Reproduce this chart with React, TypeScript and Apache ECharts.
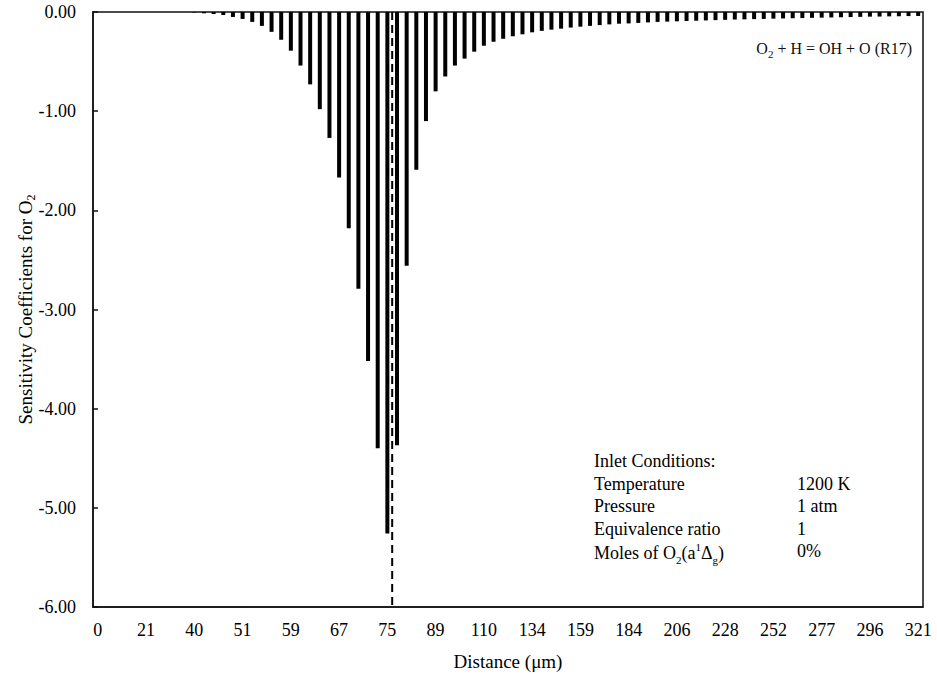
import React, { useEffect, useRef } from "react";
import * as echarts from "echarts";

// Tick labels shown every 5th bar (distance, µm)
const distanceLabels = [
  "0", "21", "40", "51", "59", "67", "75", "89", "110", "134",
  "159", "184", "206", "228", "252", "277", "296", "321",
];

// Sensitivity coefficients for O2, one per grid point (86 points)
const sensitivity = [
  0, 0, 0, 0, 0, 0, 0, 0, 0, 0,
  -0.005, -0.013, -0.02, -0.03, -0.05, -0.07, -0.1, -0.14, -0.2, -0.28,
  -0.39, -0.54, -0.73, -0.98, -1.27, -1.67, -2.18, -2.79, -3.52, -4.4,
  -5.26, -4.37, -2.56, -1.59, -1.1, -0.8, -0.65, -0.54, -0.47, -0.4,
  -0.34, -0.3, -0.27, -0.245, -0.225, -0.205, -0.19, -0.178, -0.168, -0.157,
  -0.148, -0.14, -0.132, -0.125, -0.118, -0.115, -0.11, -0.105, -0.1, -0.097,
  -0.094, -0.091, -0.088, -0.085, -0.082, -0.079, -0.076, -0.074, -0.072, -0.07,
  -0.067, -0.065, -0.063, -0.061, -0.059, -0.057, -0.055, -0.053, -0.051, -0.049,
  -0.047, -0.046, -0.044, -0.043, -0.041, -0.04,
];

// Flame-front marker position (bar-boundary coordinate on hidden value axis)
const markerPosition = [31];

const inletRows = [
  ["Temperature", "1200 K"],
  ["Pressure", "1 atm"],
  ["Equivalence ratio", "1"],
];

const FONT = "'Liberation Serif', 'Times New Roman', serif";

export default function App() {
  const ref = useRef<HTMLDivElement>(null);

  useEffect(() => {
    document.body.style.margin = "0";
    const chart = echarts.init(ref.current!, null, { renderer: "svg" });

    const categories = sensitivity.map((_, i) =>
      i % 5 === 0 ? distanceLabels[i / 5] : `d${i}`
    );

    const textBase = { fontFamily: FONT, fontSize: 18, fill: "#000" };
    const rowY = [463, 485.5, 508, 530.5, 553];
    const graphics: any[] = [
      {
        type: "text",
        left: 594,
        top: rowY[0] - 11,
        style: { ...textBase, text: "Inlet Conditions:" },
      },
    ];
    inletRows.forEach((r, k) => {
      graphics.push({
        type: "text",
        left: 594,
        top: rowY[k + 1] - 11,
        style: { ...textBase, text: r[0] },
      });
      graphics.push({
        type: "text",
        left: 797,
        top: rowY[k + 1] - 11,
        style: { ...textBase, text: r[1] },
      });
    });
    graphics.push({
      type: "text",
      left: 594,
      top: rowY[4] - 12,
      style: {
        text: "{n|Moles of O}{sub|2}{n|(a}{sup|1}{n|Δ}{sub|g}{n|)}",
        fill: "#000",
        rich: {
          n: { fontFamily: FONT, fontSize: 18, lineHeight: 24, fill: "#000" },
          sub: { fontFamily: FONT, fontSize: 11, lineHeight: 12, verticalAlign: "bottom", fill: "#000" },
          sup: { fontFamily: FONT, fontSize: 11, lineHeight: 12, verticalAlign: "top", fill: "#000" },
        },
      },
    });
    graphics.push({
      type: "text",
      left: 797,
      top: rowY[4] - 11,
      style: { ...textBase, text: "0%" },
    });
    graphics.push({
      type: "text",
      right: 25,
      top: 40,
      style: {
        text: "{n|O}{sub|2}{n| + H = OH + O (R17)}",
        fill: "#000",
        rich: {
          n: { fontFamily: FONT, fontSize: 16, lineHeight: 22, fill: "#111" },
          sub: { fontFamily: FONT, fontSize: 11, lineHeight: 14, verticalAlign: "bottom", fill: "#111" },
        },
      },
    });

    chart.setOption({
      animation: false,
      backgroundColor: "#fff",
      grid: {
        left: 93,
        right: 14,
        top: 12,
        bottom: 71,
        show: true,
        borderColor: "#111",
        borderWidth: 1.5,
        containLabel: false,
      },
      xAxis: [
        {
          type: "category",
          data: categories,
          boundaryGap: true,
          axisLine: { onZero: false, lineStyle: { color: "#111", width: 1.5 } },
          axisTick: { show: false },
          axisLabel: {
            interval: 0,
            margin: 14,
            fontFamily: FONT,
            fontSize: 18,
            color: "#000",
            formatter: (v: string) => (v.startsWith("d") ? "" : v),
          },
          name: "Distance (μm)",
          nameLocation: "middle",
          nameGap: 45,
          nameMoveOverlap: false,
          nameTextStyle: { fontFamily: FONT, fontSize: 19, color: "#000" },
          splitLine: { show: false },
        },
        {
          type: "value",
          min: 0,
          max: 86,
          show: false,
          splitLine: { show: false },
        },
      ],
      yAxis: {
        type: "value",
        min: -6,
        max: 0,
        interval: 1,
        axisLine: { show: true, lineStyle: { color: "#111", width: 1.5 } },
        axisTick: { show: true, inside: true, length: 5, lineStyle: { color: "#111", width: 1.5 } },
        axisLabel: {
          margin: 17,
          fontFamily: FONT,
          fontSize: 18,
          color: "#000",
          formatter: (v: number) => v.toFixed(2),
        },
        splitLine: { show: false },
        name: "{n|Sensitivity Coefficients for O}{sub|2}",
        nameLocation: "middle",
        nameGap: 56,
        nameMoveOverlap: false,
        nameTextStyle: {
          rich: {
            n: { fontFamily: FONT, fontSize: 19, lineHeight: 24, color: "#000" },
            sub: { fontFamily: FONT, fontSize: 12, lineHeight: 12, verticalAlign: "bottom", color: "#000" },
          },
        },
      },
      series: [
        {
          type: "bar",
          data: sensitivity,
          barWidth: 4,
          itemStyle: { color: "#000" },
          xAxisIndex: 0,
        },
        {
          type: "line",
          xAxisIndex: 1,
          data: [
            [markerPosition[0], 0],
            [markerPosition[0], -6],
          ],
          showSymbol: false,
          symbol: "none",
          lineStyle: { color: "#000", width: 2, type: [8, 5] },
          z: 5,
        },
      ],
      graphic: graphics,
    });

    return () => chart.dispose();
  }, []);

  return <div ref={ref} style={{ width: 937, height: 678 }} />;
}
